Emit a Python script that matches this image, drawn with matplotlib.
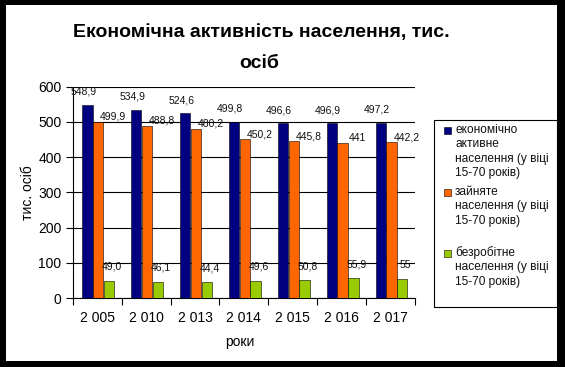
import numpy as np
import matplotlib
matplotlib.use("Agg")
import matplotlib.pyplot as plt
from matplotlib.patches import Rectangle

plt.rcParams['font.family'] = ['Liberation Sans', 'DejaVu Sans']

# data
years = ["2 005", "2 010", "2 013", "2 014", "2 015", "2 016", "2 017"]
active = ["548,9", "534,9", "524,6", "499,8", "496,6", "496,9", "497,2"]
employed = ["499,9", "488,8", "480,2", "450,2", "445,8", "441", "442,2"]
unemployed = ["49,0", "46,1", "44,4", "49,6", "50,8", "55,9", "55"]
series_names = ["економічно\nактивне\nнаселення (у віці\n15-70 років)",
                "зайняте\nнаселення (у віці\n15-70 років)",
                "безробітне\nнаселення (у віці\n15-70 років)"]
colors = ["#000080", "#FF6600", "#99CC00"]

W, H = 565, 367
fig = plt.figure(figsize=(W / 100, H / 100), dpi=100)
fig.patch.set_facecolor("black")
fig.patches.append(Rectangle((6 / W, 6 / H), 551 / W, 356 / H, transform=fig.transFigure,
                             facecolor="white", edgecolor="none", zorder=-1))

ax = fig.add_axes([72.7 / W, 1 - 298 / H, (415 - 72.7) / W, (298 - 86.7) / H])
ax.set_facecolor("white")

x = np.arange(len(years))
width = 0.21
offsets = [-0.2, 0.02, 0.24]
# label offsets in pixels (dx, dy above bar top)
lab_off = [(-4, 13), (15, 5), (3, 14)]
for k, ser in enumerate([active, employed, unemployed]):
    vals = [float(s.replace(",", ".")) for s in ser]
    bars = ax.bar(x + offsets[k], vals, width, color=colors[k], edgecolor="black",
                  linewidth=0.4, zorder=3)
    for b, s in zip(bars, ser):
        ax.annotate(s, (b.get_x() + b.get_width() / 2, b.get_height()),
                    xytext=(lab_off[k][0] * 0.72, lab_off[k][1] * 0.72),
                    textcoords="offset points", ha="center", va="center",
                    fontsize=7.5, color="#111111", zorder=4)

ax.set_xlim(-0.5, len(years) - 0.5)
ax.set_ylim(0, 600)
ax.set_yticks(range(0, 601, 100))
ax.yaxis.grid(True, color="black", linewidth=0.8, zorder=0)
ax.set_axisbelow(True)
ax.set_xticks(x)
ax.set_xticklabels(years, fontsize=10)
ax.set_xticks(np.arange(-0.5, len(years)), minor=True)
ax.tick_params(axis="x", which="major", length=0, pad=9)
ax.tick_params(axis="x", which="minor", length=5, width=0.8, direction="out")
ax.tick_params(axis="y", length=5, width=0.8, direction="out", labelsize=10, pad=3)
for side in ["top", "right"]:
    ax.spines[side].set_visible(False)
for side in ["left", "bottom"]:
    ax.spines[side].set_linewidth(0.8)

ax.set_ylabel("тис. осіб", fontsize=10, labelpad=2)
fig.text(240 / W, 1 - 342 / H, "роки", ha="center", va="center", fontsize=10)

fig.text(261 / W, 1 - 33 / H, "Економічна активність населення, тис.",
         ha="center", va="center", fontsize=14, fontweight="bold")
fig.text(259 / W, 1 - 63 / H, "осіб", ha="center", va="center", fontsize=14, fontweight="bold")

# legend box drawn like the original
fig.patches.append(Rectangle((434 / W, 1 - 307 / H), 123 / W, 187 / H, transform=fig.transFigure,
                             facecolor="white", edgecolor="black", linewidth=0.8, zorder=5))
entry_y = [130, 192, 253]
for k, name in enumerate(series_names):
    y0 = entry_y[k]
    fig.patches.append(Rectangle((444 / W, 1 - (y0 + 3.5) / H), 7 / W, 7 / H,
                                 transform=fig.transFigure, facecolor=colors[k],
                                 edgecolor="black", linewidth=0.4, zorder=6))
    for j, line in enumerate(name.split("\n")):
        fig.text(455 / W, 1 - (y0 + j * 14.3) / H, line, ha="left", va="center",
                 fontsize=8.6, color="#111111", zorder=6)

fig.savefig("out.png", dpi=100)
